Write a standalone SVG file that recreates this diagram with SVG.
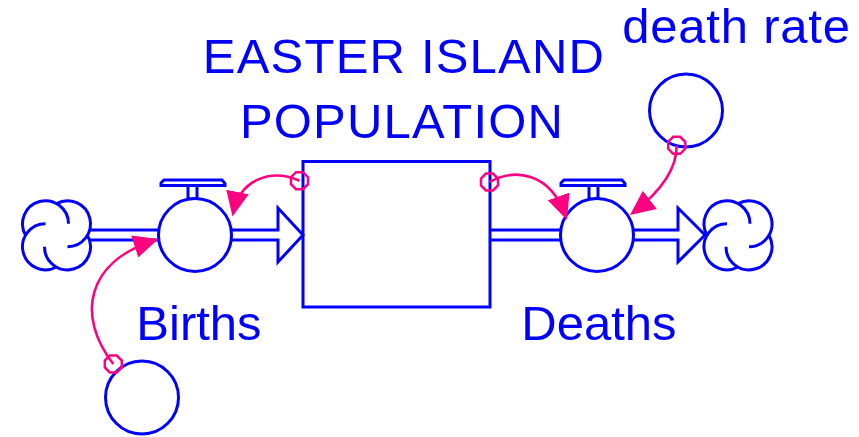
<svg xmlns="http://www.w3.org/2000/svg" xmlns:xlink="http://www.w3.org/1999/xlink" width="859" height="437" viewBox="0 0 859 437">
<style>
.ln{fill:none;stroke:#0000FF;stroke-width:3}
.wf{fill:#FFFFFF;stroke:#0000FF;stroke-width:3}
.lk{fill:none;stroke:#FF0080;stroke-width:2.6}
.oc{fill:none;stroke:#FF0080;stroke-width:2.5}
.tx{font-family:"Liberation Sans",Arial,sans-serif;font-size:49px;fill:#0000FF;text-anchor:middle}
.ti{letter-spacing:1.2px}
.dr{letter-spacing:0.8px}
</style>
<defs>
<marker id="ah" markerUnits="userSpaceOnUse" viewBox="0 0 25 23" refX="21" refY="11.5" markerWidth="25" markerHeight="23" orient="auto">
<path d="M0,0 L25,11.5 L0,23 z" fill="#FF0080"/>
</marker>
<g id="cloud" class="ln">
<path d="M12,-11.5 A23,23 0 1 0 -30.9,0"/>
<path d="M-11,-11.5 A23,23 0 1 0 0,31.7"/>
<path d="M-12,11.5 A23,23 0 1 0 30.9,0"/>
<path d="M11,11.5 A23,23 0 1 0 0,-31.7"/>
</g>
<polygon id="oct" points="-3.5,-8.5 3.5,-8.5 8.5,-3.5 8.5,3.5 3.5,8.5 -3.5,8.5 -8.5,3.5 -8.5,-3.5"/>
</defs>
<rect width="859" height="437" fill="#FFFFFF"/>

<g id="flows" class="ln">
<path d="M89,230 H160 M89,240 H160"/>
<path d="M230,230 H278 V208 L303,235 L278,262 V240 H230"/>
<path d="M490,230 H562 M490,240 H562"/>
<path d="M632,230 H678 V208 L705,235 L678,262 V240 H632"/>
</g>

<g id="source-cloud"><use xlink:href="#cloud" transform="translate(56.5,235.3)"/></g>
<g id="sink-cloud"><use xlink:href="#cloud" transform="translate(738,235.3)"/></g>

<g id="population">
<rect class="ln" x="303" y="161.5" width="187" height="145.5"/>
<text class="tx ti" x="404" y="73">EASTER ISLAND</text>
<text class="tx ti" x="402" y="138">POPULATION</text>
</g>

<g id="births">
<rect class="wf" x="188" y="185" width="9" height="14"/>
<circle class="wf" cx="195" cy="235" r="36.5"/>
<polygon class="wf" points="161,183 164,180 222,180 225,183.5 225,185.5 161,185.5"/>
<text class="tx" x="199" y="340">Births</text>
</g>

<g id="deaths">
<rect class="wf" x="589" y="185" width="9" height="14"/>
<circle class="wf" cx="597" cy="235" r="36.5"/>
<polygon class="wf" points="561,183 564,180 622,180 625,183.5 625,185.5 561,185.5"/>
<text class="tx" x="599" y="340">Deaths</text>
</g>

<g id="births-input">
<circle class="ln" cx="142" cy="397.5" r="36.5"/>
</g>

<g id="death-rate">
<circle class="ln" cx="686" cy="110.5" r="36.5"/>
<text class="tx dr" x="736.5" y="43">death rate</text>
</g>

<g id="connectors">
<path class="lk" d="M113.3,364 C76,316 86,262 154.7,240.2" marker-end="url(#ah)"/>
<path class="lk" d="M299.5,180.7 C270,168 240,180 233.3,212.6" marker-end="url(#ah)"/>
<path class="lk" d="M489.5,182 C515,168 550,172 565.7,216.2" marker-end="url(#ah)"/>
<path class="lk" d="M676.7,145.3 C677,170 660,192 633.2,212.6" marker-end="url(#ah)"/>
<use xlink:href="#oct" class="oc" transform="translate(113.3,364)"/>
<use xlink:href="#oct" class="oc" transform="translate(299.5,180.7)"/>
<use xlink:href="#oct" class="oc" transform="translate(489.5,182)"/>
<use xlink:href="#oct" class="oc" transform="translate(676.7,145.3)"/>
</g>
</svg>
